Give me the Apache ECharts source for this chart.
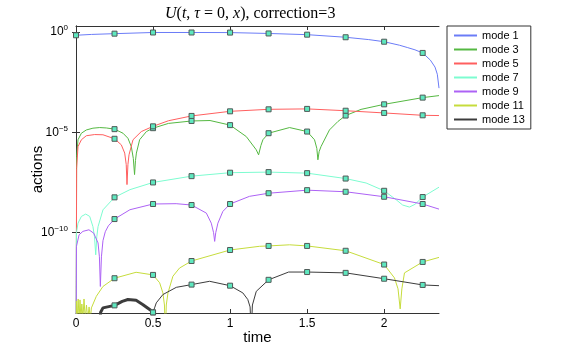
<!DOCTYPE html>
<html>
<head>
<meta charset="utf-8">
<script src="https://cdn.jsdelivr.net/npm/echarts@6/dist/echarts.min.js"></script>
<style>
  html, body { margin: 0; padding: 0; background: #fff; }
  #chart { width: 586px; height: 353px; }
</style>
</head>
<body>
<div id="chart"></div>
<script>
// data: [time, action]
var mode1 = [[0, 6.9e-1], [0.1, 7.6e-1], [0.25, 8.3e-1], [0.5, 9.5e-1], [0.75, 9.5e-1], [1, 9.4e-1],
  [1.25, 8.5e-1], [1.5, 7.4e-1], [1.75, 5.5e-1], [1.9, 4.2e-1], [2, 3.3e-1], [2.1, 2.2e-1],
  [2.15, 1.7e-1], [2.2, 1.3e-1], [2.25, 9.1e-2], [2.3, 4.0e-2], [2.33, 1.8e-2], [2.345, 7.9e-3], [2.356, 1.6e-3]];
var mode3 = [[0, 1e-20], [0.004, 6.3e-7], [0.013, 4.3e-6], [0.035, 9.1e-6], [0.067, 1.32e-5], [0.11, 1.62e-5],
  [0.154, 1.74e-5], [0.197, 1.66e-5], [0.25, 1.45e-5], [0.305, 9.1e-6], [0.337, 5.1e-6], [0.359, 1.95e-6],
  [0.372, 5.0e-7], [0.38, 7.9e-8], [0.386, 4.0e-7], [0.392, 9.3e-7], [0.413, 4.3e-6], [0.457, 1.1e-5],
  [0.5, 1.62e-5], [0.6, 2.8e-5], [0.75, 3.7e-5], [0.87, 3.9e-5], [1, 2.3e-5], [1.105, 6.2e-6],
  [1.17, 1.35e-6], [1.185, 7.6e-7], [1.2, 2.2e-6], [1.213, 4.3e-6], [1.25, 9.1e-6], [1.386, 1.74e-5],
  [1.5, 1.1e-5], [1.548, 4.3e-6], [1.563, 1.6e-6], [1.57, 4.3e-7], [1.578, 1.1e-6], [1.59, 1.95e-6],
  [1.645, 1.32e-5], [1.7, 3.5e-5], [1.75, 6.9e-5], [1.85, 1.4e-4], [2, 2.5e-4], [2.25, 5.4e-4], [2.356, 6.8e-4]];
var mode5 = [[0, 1e-20], [0.004, 1.6e-7], [0.013, 1.95e-6], [0.035, 4.3e-6], [0.067, 6.8e-6], [0.121, 7.8e-6],
  [0.175, 7.6e-6], [0.25, 4.8e-6], [0.294, 2.4e-6], [0.316, 9.3e-7], [0.326, 2.5e-7], [0.331, 2.5e-8],
  [0.337, 2.5e-7], [0.344, 7.6e-7], [0.37, 4.3e-6], [0.424, 1.1e-5], [0.5, 2.0e-5], [0.6, 3.8e-5],
  [0.75, 6.6e-5], [1, 1.12e-4], [1.25, 1.41e-4], [1.5, 1.48e-4], [1.75, 1.2e-4], [2, 9.3e-5],
  [2.25, 7.1e-5], [2.356, 6.9e-5]];
var mode7 = [[0, 1e-20], [0.003, 1.0e-10], [0.013, 3.0e-10], [0.035, 6.5e-10], [0.063, 8.5e-10], [0.089, 6.5e-10],
  [0.11, 2.0e-10], [0.12, 6.3e-11], [0.128, 7.9e-12], [0.135, 6.3e-11], [0.143, 2.0e-10], [0.175, 1.38e-9],
  [0.25, 5.8e-9], [0.35, 1.4e-8], [0.5, 3.2e-8], [0.75, 6.6e-8], [1, 9.8e-8], [1.25, 1.05e-7], [1.5, 9.3e-8],
  [1.75, 5.0e-8], [1.883, 3.0e-8], [2, 1.23e-8], [2.078, 4.4e-9], [2.12, 2.4e-9], [2.164, 1.9e-9],
  [2.2, 2.6e-9], [2.25, 6.0e-9], [2.356, 1.86e-8]];
var mode9 = [[0, 1e-20], [0.003, 2.1e-11], [0.02, 7.9e-11], [0.045, 1.17e-10], [0.084, 1.4e-10], [0.115, 9.5e-11],
  [0.143, 3.1e-11], [0.152, 6.3e-12], [0.158, 2.1e-13], [0.165, 6.3e-12], [0.175, 4.0e-11], [0.19, 1.12e-10],
  [0.21, 2.2e-10], [0.25, 4.8e-10], [0.35, 1.4e-9], [0.5, 2.7e-9], [0.65, 2.8e-9], [0.75, 2.4e-9],
  [0.846, 9.5e-10], [0.878, 3.0e-10], [0.893, 1.0e-10], [0.9, 3.7e-11], [0.907, 1.0e-10], [0.921, 3.0e-10],
  [0.953, 1.15e-9], [1, 2.7e-9], [1.126, 6.5e-9], [1.25, 9.3e-9], [1.5, 1.32e-8], [1.75, 1.1e-8],
  [2, 6.2e-9], [2.25, 2.7e-9], [2.356, 1.5e-9]];
var mode11 = [[0, 1e-20], [0.004, 4.0e-14], [0.009, 5e-15], [0.014, 5.0e-14], [0.02, 5e-15], [0.026, 4.5e-14],
  [0.032, 5e-15], [0.038, 2.8e-14], [0.045, 5e-15], [0.052, 5.0e-14], [0.06, 5e-15], [0.068, 2.5e-14],
  [0.076, 5e-15], [0.085, 2.0e-14], [0.093, 5e-15], [0.1, 1.8e-14], [0.132, 6.8e-14], [0.175, 2.1e-13],
  [0.25, 5.4e-13], [0.39, 1.07e-12], [0.5, 7.9e-13], [0.543, 3.2e-13], [0.564, 1.0e-13], [0.574, 2.5e-14],
  [0.58, 1e-15], [0.586, 2.5e-14], [0.597, 1.0e-13], [0.629, 6.8e-13], [0.672, 1.74e-12], [0.75, 3.9e-12],
  [1, 1.38e-11], [1.19, 2.1e-11], [1.25, 2.2e-11], [1.386, 2.5e-11], [1.5, 2.2e-11], [1.75, 1.26e-11],
  [2, 2.6e-12], [2.067, 5.6e-13], [2.09, 1.6e-13], [2.104, 1.6e-14], [2.115, 1.6e-13], [2.132, 1.0e-12],
  [2.25, 3.5e-12], [2.356, 5.9e-12]];
var mode13early = [[0.149, 1e-15], [0.16, 1.1e-14], [0.175, 1.8e-14], [0.25, 2.4e-14], [0.3, 3.8e-14],
  [0.337, 4.7e-14], [0.39, 4.3e-14], [0.435, 2.6e-14], [0.478, 1.5e-14], [0.5, 1.07e-14]];
var mode13 = [[0.5, 1.07e-14], [0.51, 1.8e-14], [0.521, 3.2e-14], [0.564, 8.3e-14], [0.651, 1.9e-13],
  [0.75, 2.6e-13], [0.867, 3.8e-13], [1, 2.3e-13], [1.083, 1.0e-13], [1.115, 4.7e-14], [1.13, 2.0e-14],
  [1.137, 1e-15], [1.145, 2.5e-14], [1.17, 1.2e-13], [1.25, 4.5e-13], [1.38, 1.1e-12], [1.5, 1.1e-12],
  [1.75, 1.0e-12], [2, 5.1e-13], [2.25, 2.5e-13], [2.356, 2.3e-13]];

var modeNames = ['mode 1', 'mode 3', 'mode 5', 'mode 7', 'mode 9', 'mode 11', 'mode 13'];
var modeColors = ['#6b7cf7', '#55b842', '#ff5f5f', '#7dfcd0', '#ad62f5', '#c6dc3c', '#3c3c3c'];
var yTicks = [1e-10, 1e-5, 1];
var xTicks = [0, 0.5, 1, 1.5, 2];
var tMax = 2.356;
var yMin = 1e-14, yMax = 2;

var myChart = echarts.init(document.getElementById('chart'));

// the squares sit on every quarter of time unit
function samplePoints(arr) {
  var out = [], seen = {};
  arr.forEach(function (p) {
    var q = p[0] * 4;
    if (Math.abs(q - Math.round(q)) < 1e-9 && p[1] >= yMin && !seen[p[0]]) {
      seen[p[0]] = true;
      out.push(p);
    }
  });
  return out;
}

var lineData = [mode1, mode3, mode5, mode7, mode9, mode11, mode13];
var series = [];
lineData.forEach(function (d, i) {
  series.push({
    name: modeNames[i], type: 'line', data: d, symbol: 'none', smooth: false,
    lineStyle: { color: modeColors[i], width: 1 }, itemStyle: { color: modeColors[i] },
    z: 2 + i
  });
});
// thick start of mode 13, kept out of the legend
series.push({
  name: 'mode 13 start', type: 'line', data: mode13early, symbol: 'none',
  lineStyle: { color: modeColors[6], width: 3 }, itemStyle: { color: modeColors[6] }, z: 9
});
lineData.concat([mode13early]).forEach(function (d) {
  series.push({
    type: 'scatter', data: samplePoints(d), symbol: 'rect', symbolSize: 5,
    itemStyle: { color: '#5ee8bf', borderColor: '#505a58', borderWidth: 1, opacity: 1 },
    z: 20, silent: true
  });
});

var axisColor = '#333';
var sansFont = 'Liberation Sans';

option = {
  animation: false,
  title: {
    text: '{i|U}({i|t}, {i|\u03c4} = 0, {i|x}), correction=3',
    left: 160, top: 1,
    textStyle: {
      fontFamily: 'Liberation Serif', fontSize: 16, fontWeight: 'normal', color: '#000',
      rich: { i: { fontStyle: 'italic', fontFamily: 'Liberation Serif', fontSize: 16, color: '#000' } }
    }
  },
  legend: {
    data: modeNames,
    orient: 'vertical', left: 447, top: 26,
    padding: [4, 6, 4, 6], itemGap: 3, itemWidth: 23, itemHeight: 10, itemTextGap: 4,
    itemStyle: { opacity: 0, borderWidth: 0 },
    backgroundColor: '#fff', borderColor: '#333', borderWidth: 1, borderRadius: 0,
    textStyle: { fontFamily: sansFont, fontSize: 11, color: '#000' }
  },
  grid: { left: 76, right: 147, top: 26, bottom: 40 },
  xAxis: [{
    type: 'value', min: 0, max: tMax, interval: 0.5,
    name: 'time', nameLocation: 'middle', nameGap: 17, nameMoveOverlap: false,
    nameTextStyle: { fontFamily: sansFont, fontSize: 15, color: '#000' },
    axisLine: { show: true, lineStyle: { color: axisColor, width: 1 } },
    axisTick: { show: true, inside: true, length: 4, lineStyle: { color: axisColor },
      customValues: xTicks },
    axisLabel: { fontFamily: sansFont, fontSize: 12, color: '#000', margin: 5,
      customValues: xTicks, formatter: function (v) { return String(v); } },
    splitLine: { show: false }
  }, {
    type: 'value', position: 'top', min: 0, max: tMax, interval: 0.5,
    axisLine: { show: true, lineStyle: { color: axisColor, width: 1 } },
    axisTick: { show: true, inside: true, length: 4, lineStyle: { color: axisColor },
      customValues: xTicks },
    axisLabel: { show: false }, splitLine: { show: false }
  }],
  yAxis: [{
    type: 'log', logBase: 10, min: yMin, max: yMax,
    name: 'actions', nameLocation: 'middle', nameGap: 31, nameRotate: 90, nameMoveOverlap: false,
    nameTextStyle: { fontFamily: sansFont, fontSize: 15, color: '#000' },
    axisLine: { show: true, lineStyle: { color: axisColor, width: 1 } },
    axisTick: { show: true, inside: true, length: 4, lineStyle: { color: axisColor },
      customValues: yTicks },
    axisLabel: {
      margin: 8, customValues: yTicks,
      formatter: function (v) {
        var e = Math.round(Math.log(v) / Math.LN10);
        return '{b|10}{s|' + (e < 0 ? '\u2212' + (-e) : e) + '}';
      },
      rich: {
        b: { fontFamily: sansFont, fontSize: 12, color: '#000', lineHeight: 16 },
        s: { fontFamily: sansFont, fontSize: 8, color: '#000', verticalAlign: 'top', lineHeight: 16, padding: [0, 0, 8, 0] }
      }
    },
    splitLine: { show: false }
  }, {
    type: 'log', logBase: 10, min: yMin, max: yMax, position: 'right',
    axisLine: { show: true, lineStyle: { color: axisColor, width: 1 } },
    axisTick: { show: true, inside: true, length: 4, lineStyle: { color: axisColor },
      customValues: yTicks },
    axisLabel: { show: false }, splitLine: { show: false }
  }],
  series: series
};

myChart.setOption(option);
</script>
</body>
</html>
